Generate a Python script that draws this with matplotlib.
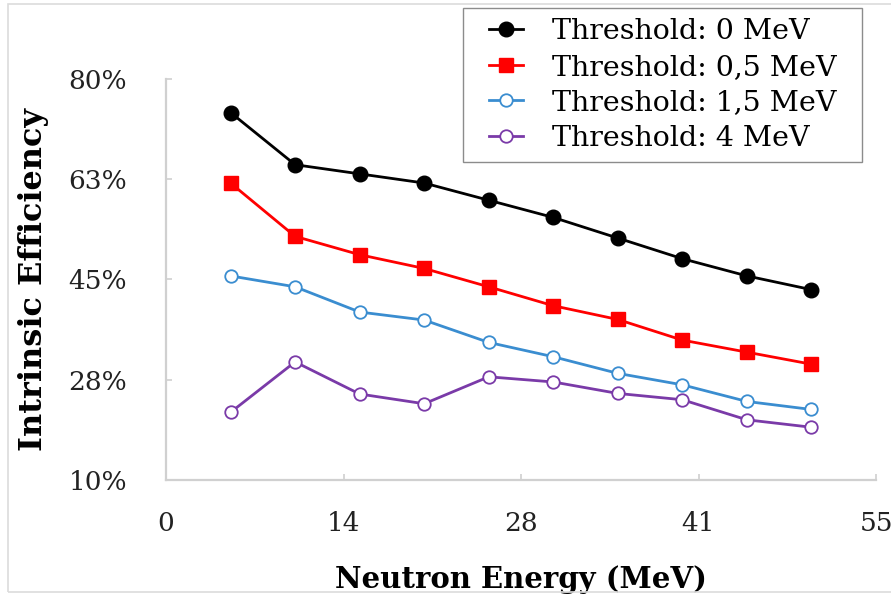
import matplotlib
matplotlib.use("Agg")
import matplotlib.pyplot as plt
from matplotlib.patches import Rectangle
from matplotlib.ticker import FixedLocator, FuncFormatter

plt.rcParams['font.family'] = ['DejaVu Serif']

energy = [5, 10, 15, 20, 25, 30, 35, 40, 45, 50]

eff_0 = [74.1, 65.0, 63.4, 61.8, 58.8, 55.8, 52.2, 48.6, 45.6, 43.2]
eff_05 = [61.8, 52.5, 49.3, 46.9, 43.7, 40.4, 38.0, 34.4, 32.3, 30.2]
eff_15 = [45.6, 43.7, 39.3, 37.9, 34.0, 31.5, 28.6, 26.6, 23.7, 22.3]
eff_4 = [21.8, 30.6, 25.0, 23.3, 28.0, 27.1, 25.1, 24.0, 20.5, 19.2]

labels = ['Threshold: 0 MeV', 'Threshold: 0,5 MeV',
          'Threshold: 1,5 MeV', 'Threshold: 4 MeV']

x_ticks = [0, 13.75, 27.5, 41.25, 55]
y_ticks = [10, 27.5, 45, 62.5, 80]


def round_half_up(v):
    return int(v + 0.5)


W, H = 891, 595
fig = plt.figure(figsize=(W / 100, H / 100), dpi=100)
ax = fig.add_axes([166 / W, 1 - 480 / H, 710 / W, (480 - 78.7) / H])

# faint outer frame of the chart area
fig.patches.append(Rectangle((8 / W, 3 / H), 1.0, 1 - 7 / H,
                             transform=fig.transFigure, fill=False,
                             edgecolor='#dcdcdc', linewidth=1.2))

lw = 2.0
ax.plot(energy, eff_0, color='black', lw=lw, marker='o', ms=10.5,
        label=labels[0], zorder=3)
ax.plot(energy, eff_05, color='#ff0000', lw=lw, marker='s', ms=9.5,
        label=labels[1], zorder=3)
ax.plot(energy, eff_15, color='#3a8dd0', lw=lw, marker='o', ms=9,
        mfc='white', mew=1.3, label=labels[2], zorder=3)
ax.plot(energy, eff_4, color='#7a3aa8', lw=lw, marker='o', ms=9,
        mfc='white', mew=1.3, label=labels[3], zorder=3)

ax.set_xlim(0, 55)
ax.set_ylim(10, 80)
ax.xaxis.set_major_locator(FixedLocator(x_ticks))
ax.yaxis.set_major_locator(FixedLocator(y_ticks))
ax.xaxis.set_major_formatter(FuncFormatter(lambda v, p: f"{round_half_up(v)}"))
ax.yaxis.set_major_formatter(FuncFormatter(lambda v, p: f"{round_half_up(v)}%"))

for side in ('top', 'right'):
    ax.spines[side].set_visible(False)
for side in ('left', 'bottom'):
    ax.spines[side].set_color('#d0d0d0')
    ax.spines[side].set_linewidth(1.6)

ax.tick_params(axis='both', direction='in', length=4, width=1.2,
               color='#d0d0d0', labelsize=19, labelcolor='#222222')
ax.tick_params(axis='y', pad=28)
ax.tick_params(axis='x', pad=22)

ax.set_xlabel('Neutron Energy (MeV)', fontsize=21, fontweight='bold',
              labelpad=21)
ax.set_ylabel('Intrinsic Efficiency', fontsize=23, fontweight='bold',
              labelpad=14)

# legend box drawn separately so its padding can be set freely
box_l, box_t, box_r, box_b = 463, 8, 862, 162
fig.patches.append(Rectangle((box_l / W, 1 - box_b / H),
                             (box_r - box_l) / W, (box_b - box_t) / H,
                             transform=fig.transFigure, facecolor='white',
                             edgecolor='#8c8c8c', linewidth=1.0, zorder=4))
leg = fig.legend(loc='center',
                 bbox_to_anchor=((box_l + box_r) / 2 / W,
                                 1 - (box_t + box_b) / 2 / H),
                 fontsize=20.5, frameon=False, handlelength=1.2,
                 handletextpad=1.0, labelspacing=0.3, borderpad=0.0,
                 borderaxespad=0)
leg.set_zorder(5)

fig.savefig('out.png', dpi=100)
